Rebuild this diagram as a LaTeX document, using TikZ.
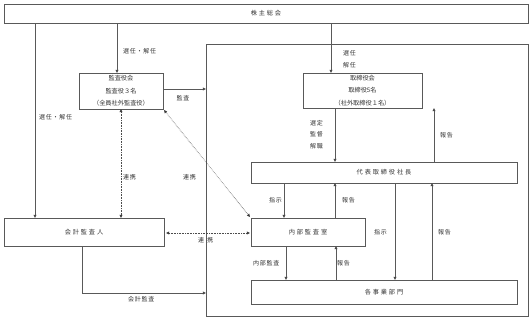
\documentclass[tikz,border=0pt]{standalone}
\usepackage{fontspec}
\setmainfont{Noto Sans CJK JP}
\newfontfamily\spaced{Noto Sans CJK JP}[LetterSpace=30]
\newfontfamily\lspaced{Noto Sans CJK JP}[LetterSpace=12]
\usetikzlibrary{arrows.meta,calc}
\begin{document}
\begin{tikzpicture}[x=1pt,y=-1pt,
  font=\fontsize{6.2}{12.5}\selectfont,
  box/.style={draw=black!65,line width=0.6pt,inner sep=0pt,outer sep=0pt,text=black!80,align=center},
  sbox/.style={box,font=\spaced\fontsize{6.2}{12.5}\selectfont},
  lbl/.style={inner sep=0pt,text=black!80,font=\lspaced\fontsize{6}{11}\selectfont},
  conn/.style={draw=black!65,line width=0.6pt},
  arr/.style={conn,-{Triangle[length=3.2pt,width=3pt,fill=black]}},
  darr/.style={draw=black!70,line width=0.6pt,densely dotted,{Triangle[length=3.2pt,width=3pt,fill=black]}-{Triangle[length=3.2pt,width=3pt,fill=black]}}]
\useasboundingbox (0,0) rectangle (531,319);
\fill[white] (0,0) rectangle (531,319);
% company frame
\node[box,minimum width=322pt,minimum height=272pt] (co) at (367,180) {};
% boxes
\node[sbox,minimum width=524pt,minimum height=19pt] (sh) at (266,13.5) {株主総会};
\node[box,minimum width=84pt,minimum height=36pt] (ka) at (121,91) {監査役会\\監査役３名\\（全員社外監査役）};
\node[box,minimum width=119pt,minimum height=35pt] (tr) at (362.5,90.5) {取締役会\\取締役5名\\（社外取締役１名）};
\node[sbox,minimum width=266pt,minimum height=21pt] (dh) at (384,172.5) {代表取締役社長};
\node[sbox,minimum width=114pt,minimum height=28pt] (nb) at (308,232) {内部監査室};
\node[sbox,minimum width=266pt,minimum height=24pt] (kj) at (384,292) {各事業部門};
\node[sbox,minimum width=160pt,minimum height=28pt] (kk) at (84,232) {会計監査人};
% connectors
\draw[arr] (sh.south -| 117,0) -- (ka.north -| 117,0);
\node[lbl,anchor=west] (l1) at (123,51) {選任・解任};
\draw[arr] (sh.south -| 331,0) -- (tr.north -| 331,0);
\node[lbl,anchor=west] (l2) at (343,53) {選任};
\node[lbl,anchor=west] (l3) at (343,65) {解任};
\draw[arr] (sh.south -| 35,0) -- (kk.north -| 35,0);
\node[lbl,anchor=west] (l4) at (39,117) {選任・解任};
\draw[arr] (ka.east |- 0,89) -- (co.west |- 0,89);
\node[lbl] (l5) at (183,98) {監査};
\draw[darr] (ka.south -| 121,0) -- (kk.north -| 121,0);
\node[lbl,anchor=west] (l6) at (123,177) {連携};
\draw[darr] ($(ka.south east)+(1,1)$) -- ($(nb.north west)+(-1,-1)$);
\node[lbl,anchor=west] (l7) at (183,177) {連携};
\draw[arr] (tr.south -| 335,0) -- (dh.north -| 335,0);
\node[lbl,anchor=west] (l8) at (310,123) {選定};
\node[lbl,anchor=west] (l9) at (310,134.5) {監督};
\node[lbl,anchor=west] (l10) at (310,146) {解職};
\draw[arr] (dh.north -| 434,0) -- (tr.south -| 434,0);
\node[lbl,anchor=west] (l11) at (440,135) {報告};
\draw[arr] (dh.south -| 284,0) -- (nb.north -| 284,0);
\node[lbl,anchor=west] (l12) at (269,200) {指示};
\draw[arr] (nb.north -| 335,0) -- (dh.south -| 335,0);
\node[lbl,anchor=west] (l13) at (342,200) {報告};
\draw[arr] (dh.south -| 395,0) -- (kj.north -| 395,0);
\node[lbl,anchor=west] (l14) at (374,232) {指示};
\draw[arr] (kj.north -| 432,0) -- (dh.south -| 432,0);
\node[lbl,anchor=west] (l15) at (438,232) {報告};
\draw[arr] (nb.south -| 286,0) -- (kj.north -| 286,0);
\node[lbl,anchor=west] (l16) at (253,263) {内部監査};
\draw[arr] (kj.north -| 336,0) -- (nb.south -| 336,0);
\node[lbl,anchor=west] (l17) at (337,263) {報告};
\draw[darr] ($(kk.east |- 0,233)+(2,0)$) -- ($(nb.west |- 0,233)+(-1,0)$);
\node[lbl,anchor=west] (l18) at (198,240) {連\hspace{3pt}携};
\draw[arr] (kk.south -| 82,0) |- (co.west |- 0,293);
\node[lbl,anchor=west] (l19) at (128,299) {会計監査};
\end{tikzpicture}
\end{document}
